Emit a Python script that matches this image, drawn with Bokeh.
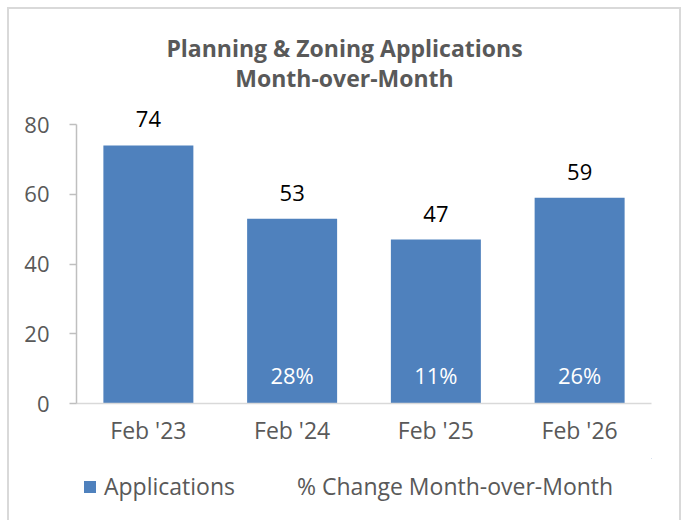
from bokeh.plotting import figure
from bokeh.layouts import column
from bokeh.models import ColumnDataSource, Legend, LegendItem, Range1d, FixedTicker, Label
from bokeh.core.properties import value
from bokeh.embed import file_html
from bokeh.resources import INLINE

# ---- data ----
categories = ["Feb '23", "Feb '24", "Feb '25", "Feb '26"]
applications = [74, 53, 47, 59]
pct_change = [None, 28, 11, 26]
y_ticks = [0, 20, 40, 60, 80]
title_lines = ["Planning & Zoning Applications", "Month-over-Month"]
series_names = ["Applications", "% Change Month-over-Month"]

FONT = "Open Sans"
BLUE = "#4F81BD"
GRAY_TXT = "#595959"

# ---- layout constants (pixels) ----
FRAME_W, FRAME_H = 575, 403      # frame reaches the top of the page
AXIS_H = 279                     # pixel height of the 0..80 axis span
Y_TOP = y_ticks[-1] * FRAME_H / AXIS_H

src = ColumnDataSource(dict(
    cat=categories,
    apps=applications,
    apps_lbl=[str(v) for v in applications],
    base=[0] * len(categories),
    pct=[0 if v is None else v for v in pct_change],
    pct_lbl=["" if v is None else f"{v}%" for v in pct_change],
))

p = figure(
    x_range=categories, y_range=Range1d(0, Y_TOP), title=None,
    frame_width=FRAME_W, frame_height=FRAME_H,
    output_backend="svg", toolbar_location=None,
    min_border_left=76, min_border_right=31,
    min_border_top=0, min_border_bottom=55,
)
p.border_fill_color = None
p.background_fill_color = None
p.outline_line_color = None

# title (two centred lines)
for txt, ty in zip(title_lines, [356, 326]):
    p.add_layout(Label(
        x=268, y=ty, x_units="screen", y_units="screen", text=txt,
        text_font=FONT, text_font_style="bold", text_font_size="23px",
        text_color=GRAY_TXT, text_align="center", text_baseline="alphabetic",
    ))

bars = p.vbar(x="cat", top="apps", width=0.626, source=src,
              fill_color=BLUE, line_color=None)

# value labels above bars
p.text(x="cat", y="apps", text="apps_lbl", source=src,
       text_font=value(FONT), text_font_size="22px", text_color="#000000",
       text_align="center", text_baseline="alphabetic", y_offset=-26)

# percent change labels inside bars (series 2)
p.text(x="cat", y="base", text="pct_lbl", source=src,
       text_font=value(FONT), text_font_size="22px", text_color="#FFFFFF",
       text_align="center", text_baseline="alphabetic", y_offset=-29)

# axes
p.xgrid.grid_line_color = None
p.ygrid.grid_line_color = None

p.yaxis.ticker = FixedTicker(ticks=y_ticks)
p.yaxis.bounds = (y_ticks[0], y_ticks[-1])
p.yaxis.major_tick_out = 7
p.yaxis.major_tick_in = 0
p.yaxis.minor_tick_line_color = None
p.yaxis.major_tick_line_color = "#bfbfbf"
p.yaxis.axis_line_color = "#bfbfbf"
p.yaxis.axis_line_width = 1.5
p.yaxis.major_tick_line_width = 1.5
p.yaxis.major_label_text_font = FONT
p.yaxis.major_label_text_font_size = "22px"
p.yaxis.major_label_text_color = GRAY_TXT
p.yaxis.major_label_standoff = 20

p.xaxis.major_tick_out = 0
p.xaxis.major_tick_in = 0
p.xaxis.axis_line_color = "#d9d9d9"
p.xaxis.axis_line_width = 1.5
p.xaxis.major_label_text_font = FONT
p.xaxis.major_label_text_font_size = "23px"
p.xaxis.major_label_text_color = GRAY_TXT
p.xaxis.major_label_standoff = 10

# ---- legend strip below the chart ----
q = figure(
    x_range=Range1d(-1000, -999), y_range=Range1d(-1000, -999),
    width=682, height=62,
    min_border_left=0, min_border_right=0, min_border_top=0, min_border_bottom=0,
    x_axis_type=None, y_axis_type=None, title=None,
    output_backend="svg", toolbar_location=None,
)
q.border_fill_color = None
q.background_fill_color = None
q.outline_line_color = None
q.xgrid.grid_line_color = None
q.ygrid.grid_line_color = None

# proxies for the two series (outside the strip's ranges, so nothing is drawn)
leg_bar = q.vbar(x="apps", top="apps", width=0.5, source=src,
                 fill_color=BLUE, line_color=None)
leg_pct = q.line(x="pct", y="pct", source=src, line_alpha=0)

legend = Legend(
    items=[LegendItem(label=series_names[0], renderers=[leg_bar]),
           LegendItem(label=series_names[1], renderers=[leg_pct])],
    orientation="horizontal", location=(6, 18),
    label_text_font=FONT, label_text_font_size="23px", label_text_color=GRAY_TXT,
    glyph_width=15, glyph_height=15, label_standoff=7, spacing=40,
    border_line_color=None, background_fill_alpha=0, padding=0, margin=0,
)
q.add_layout(legend, "center")

layout = column(p, q, spacing=0)
layout.styles = {
    "box-shadow": (
        "inset 7px 0 0 0 #ffffff, inset 0 7px 0 0 #ffffff, inset -1px 0 0 0 #ffffff, "
        "inset 9px 0 0 0 #d9d9d9, inset 0 9px 0 0 #d9d9d9, inset -3px 0 0 0 #d9d9d9"
    )
}

open("out.html", "w").write(file_html(layout, INLINE))
